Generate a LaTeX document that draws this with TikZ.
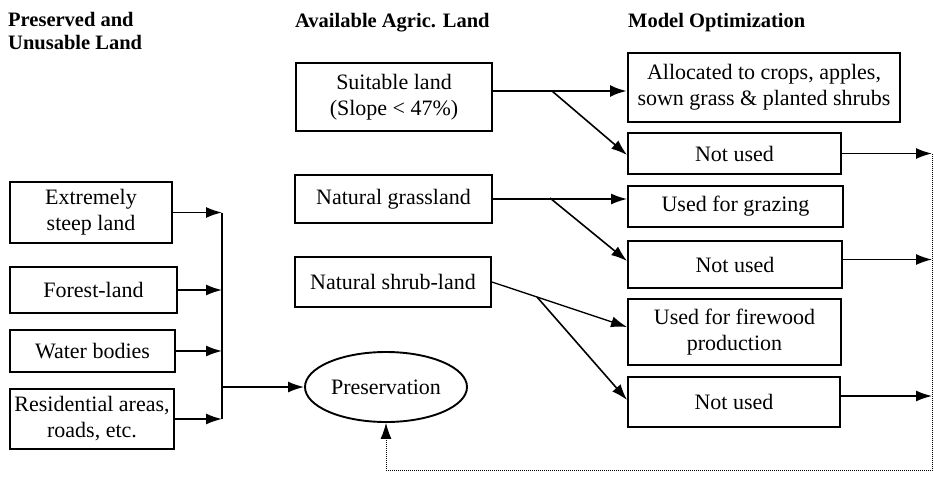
\documentclass[tikz,border=0pt]{standalone}
\usepackage{fontspec}
\setmainfont{Liberation Serif}
\usetikzlibrary{arrows.meta,shapes.geometric}
\begin{document}
\begin{tikzpicture}[x=1pt,y=-1pt,
  box/.style={draw, line width=1.9pt, rectangle, align=center, inner sep=0pt,
              font=\fontsize{22}{26}\selectfont},
  sz/.style 2 args={minimum width=#1pt, minimum height=#2pt},
  head/.style={anchor=base west, inner sep=0pt, font=\bfseries\fontsize{20.5}{23}\selectfont},
  tip/.style={-{Latex[length=16pt,width=11pt]}},
  conn/.style={line width=1.6pt, tip},
  thick conn/.style={line width=2.8pt, -{Latex[length=17pt,width=12pt]}},
  feed/.style={line width=0.9pt, dash pattern=on 1pt off 1pt}]
\useasboundingbox (0,0) rectangle (934,480);

% column headings
\node[head] (h1a) at (8,26) {Preserved and};
\node[head] (h1b) at (8,49) {Unusable Land};
\node[head] (h2) at (295,27) {Available Agric. Land};
\node[head] (h3) at (628,27) {Model Optimization};

% preserved and unusable land
\node[box, sz={162}{61}] (ext) at (91,212.5) {Extremely\\steep land};
\node[box, sz={167}{46}] (forest) at (93.5,290) {Forest-land};
\node[box, sz={165}{42}] (water) at (92.5,351) {Water bodies};
\node[box, sz={164}{60}] (resid) at (92,419) {Residential areas,\\roads, etc.};
\node[draw, ellipse, line width=1.9pt, inner sep=0pt, minimum width=162pt, minimum height=70pt,
      font=\fontsize{22}{26}\selectfont] (pres) at (386,387) {Preservation};

% available agricultural land
\node[box, sz={196}{68}] (suit) at (394,97) {Suitable land\\(Slope < 47\%)};
\node[box, sz={197}{48}] (grass) at (393.5,199) {Natural grassland};
\node[box, sz={196}{50}] (shrub) at (393,282) {Natural shrub-land};

% model optimization
\node[box, sz={272}{69}] (alloc) at (764,87.5) {Allocated to crops, apples,\\sown grass \& planted shrubs};
\node[box, sz={213}{41}] (nu1) at (734.5,153.5) {Not used};
\node[box, sz={215}{41}] (graze) at (735.5,206.5) {Used for grazing};
\node[box, sz={214}{47}] (nu2) at (735,264.5) {Not used};
\node[box, sz={213}{66}] (fire) at (734.5,332) {Used for firewood\\production};
\node[box, sz={212}{50}] (nu3) at (734,402) {Not used};

% collecting line towards preservation
\coordinate (bus) at (222,387);
\foreach \n in {ext,forest,water,resid}
  \draw[conn] (\n.east) -- (\n.east -| bus);
\draw[line width=1.6pt] (ext.east -| bus) -- (resid.east -| bus);
\draw[conn] (bus) -- (pres.west);

% branching of the agricultural land
\coordinate (s1) at ([yshift=6pt]suit.east);
\coordinate (sb) at (552,91);
\draw[thick conn] (s1) -- (s1 -| alloc.west);
\draw[conn] (sb) -- ([yshift=-1.5pt]nu1.west);

\coordinate (gb) at (550,198);
\draw[conn] (grass.east) -- (grass.east -| graze.west);
\draw[conn] (gb) -- ([yshift=3.5pt]nu2.west);

\coordinate (rb) at (537,297);
\draw[conn, line width=1.3pt] (shrub.east) -- ([yshift=5pt]fire.west);
\draw[conn] (rb) -- ([yshift=2pt]nu3.west);

% unused land goes back to preservation
\coordinate (fbc) at (932,470);
\draw[conn] (nu1.east) -- (nu1.east -| fbc);
\draw[conn] ([yshift=5pt]nu2.east) -- ([yshift=5pt]nu2.east -| fbc);
\draw[conn] ([yshift=6pt]nu3.east) -- ([yshift=6pt]nu3.east -| fbc);
\draw[feed, tip] (nu1.east -| fbc) -- (fbc) -| (pres.south);
\end{tikzpicture}
\end{document}
